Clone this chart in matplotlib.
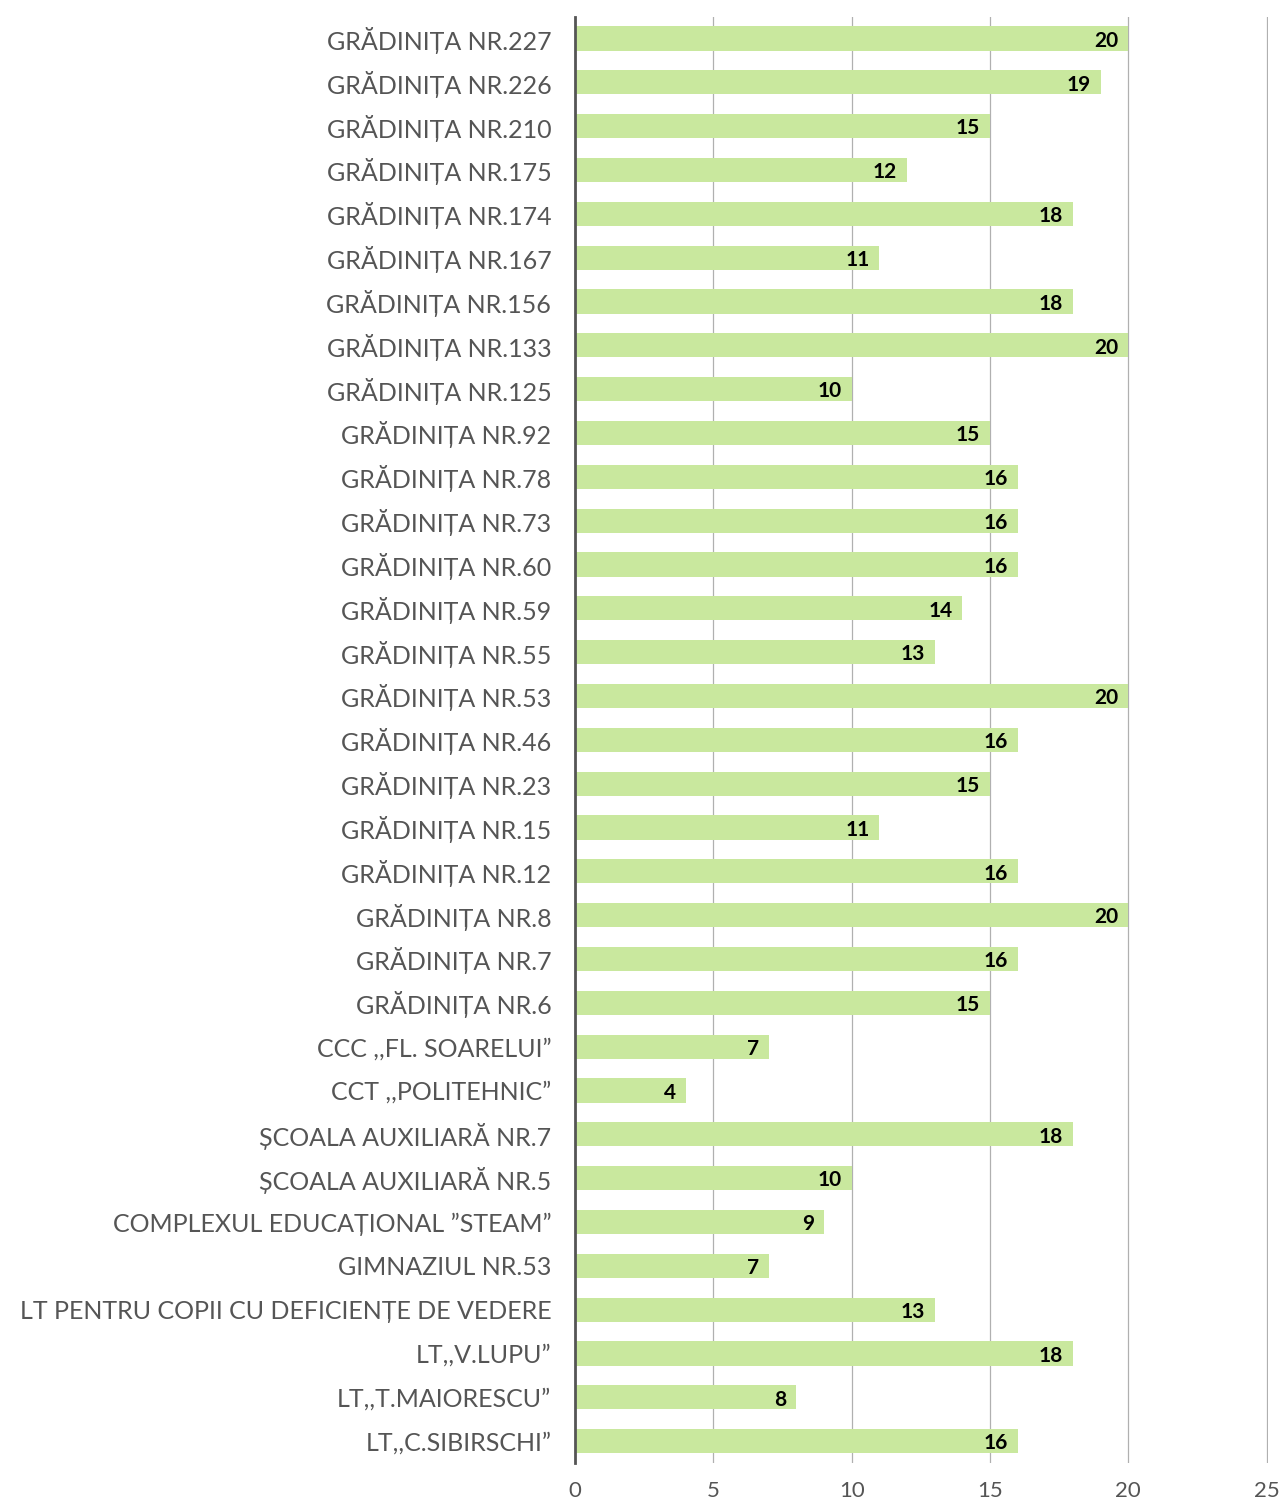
import matplotlib.pyplot as plt

# date (de sus in jos)
categories = [
    "GRĂDINIȚA NR.227", "GRĂDINIȚA NR.226", "GRĂDINIȚA NR.210", "GRĂDINIȚA NR.175",
    "GRĂDINIȚA NR.174", "GRĂDINIȚA NR.167", "GRĂDINIȚA NR.156", "GRĂDINIȚA NR.133",
    "GRĂDINIȚA NR.125", "GRĂDINIȚA NR.92", "GRĂDINIȚA NR.78", "GRĂDINIȚA NR.73",
    "GRĂDINIȚA NR.60", "GRĂDINIȚA NR.59", "GRĂDINIȚA NR.55", "GRĂDINIȚA NR.53",
    "GRĂDINIȚA NR.46", "GRĂDINIȚA NR.23", "GRĂDINIȚA NR.15", "GRĂDINIȚA NR.12",
    "GRĂDINIȚA NR.8", "GRĂDINIȚA NR.7", "GRĂDINIȚA NR.6",
    "CCC ,,FL. SOARELUI”", "CCT ,,POLITEHNIC”",
    "ȘCOALA AUXILIARĂ NR.7", "ȘCOALA AUXILIARĂ NR.5",
    "COMPLEXUL EDUCAȚIONAL ”STEAM”", "GIMNAZIUL NR.53",
    "LT PENTRU COPII CU DEFICIENȚE DE VEDERE",
    "LT,,V.LUPU”", "LT,,T.MAIORESCU”", "LT,,C.SIBIRSCHI”",
]
values = [20, 19, 15, 12, 18, 11, 18, 20, 10, 15, 16, 16, 16, 14, 13, 20,
          16, 15, 11, 16, 20, 16, 15, 7, 4, 18, 10, 9, 7, 13, 18, 8, 16]
xticks = [0, 5, 10, 15, 20, 25]

plt.rcParams['font.family'] = ['Lato', 'DejaVu Sans']

fig = plt.figure(figsize=(12.82, 15.06), dpi=100)
ax = fig.add_axes([0.4485, 0.0285, 0.5405, 0.9605])

pos = list(range(len(categories)))
ax.barh(pos, values, height=0.55, color='#c9e89e', zorder=2)

for p, v in zip(pos, values):
    ax.text(v - 0.35, p + 0.05, str(v), ha='right', va='center',
            fontsize=15, fontweight='bold', color='black', zorder=3)

ax.set_yticks(pos)
ax.set_yticklabels(categories, fontsize=18, color='#555555')
ax.set_ylim(len(categories) - 0.5, -0.5)
ax.set_xlim(0, 25.05)
ax.set_xticks(xticks)
ax.set_xticklabels([str(t) for t in xticks], fontsize=16, color='#555555')

ax.tick_params(axis='both', length=0)
ax.tick_params(axis='y', pad=17)
ax.tick_params(axis='x', pad=13)
ax.xaxis.grid(True, color='#b0b0b0', linewidth=0.9, zorder=0)

for s in ['top', 'right', 'bottom']:
    ax.spines[s].set_visible(False)
ax.spines['left'].set_color('#555555')
ax.spines['left'].set_linewidth(2)
ax.spines['left'].set_zorder(4)

fig.savefig("out.png", dpi=100)
